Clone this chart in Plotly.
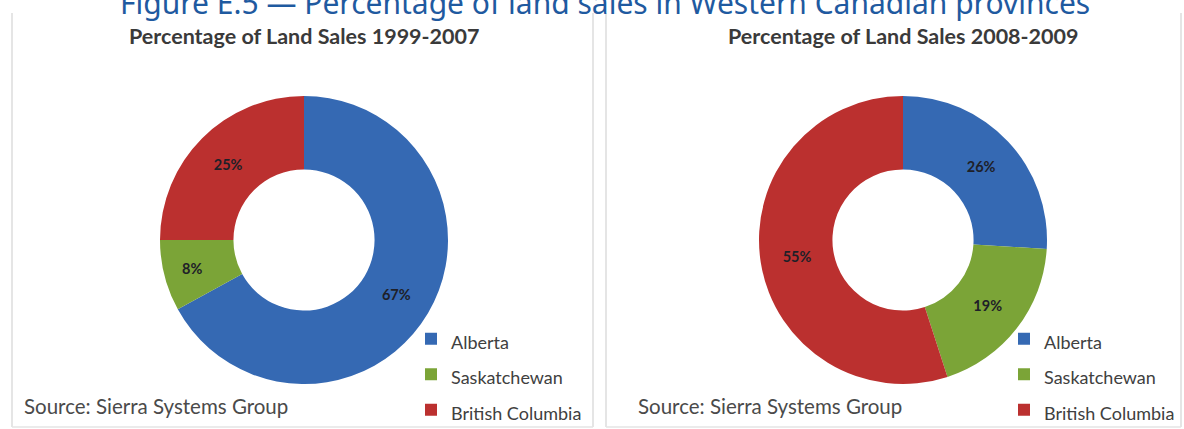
import plotly.graph_objects as go

# ---- data ----
provinces = ["Alberta", "Saskatchewan", "British Columbia"]
share_1999_2007 = [67, 8, 25]
share_2008_2009 = [26, 19, 55]
chart_titles = ["Percentage of Land Sales 1999-2007", "Percentage of Land Sales 2008-2009"]
main_title = "Figure E.5 \u2014 Percentage of land sales in Western Canadian provinces"
source_text = "Source: Sierra Systems Group"

# ---- style ----
W, H = 1184, 429
colors = ["#3569b3", "#7ba437", "#bb302f"]
R = 144
centers = [(304, 240), (903, 240)]
legend_left = [411, 1004]
panels = [(12, 593), (606, 1181)]
source_x = [22, 636]


def px(x):
    return x / W


def py(y):
    return 1 - y / H


fig = go.Figure()
for i, vals in enumerate([share_1999_2007, share_2008_2009]):
    cx, cy = centers[i]
    # legend entries rendered at a smaller size inside a taller legend row
    sep = ";" * (i + 1)
    legend_labels = [f"<span style='font-size:18px{sep}'>{p}</span>" for p in provinces]
    fig.add_trace(go.Pie(
        labels=legend_labels,
        values=vals,
        hole=0.49,
        sort=False,
        direction="clockwise",
        rotation=0,
        marker=dict(colors=colors, line=dict(width=0)),
        texttemplate="%{value}%",
        textposition="inside",
        insidetextorientation="horizontal",
        textfont=dict(family="Lato", size=14.5, color="#1e2028", weight="bold"),
        domain=dict(x=[px(cx - R), px(cx + R)], y=[py(cy + R), py(cy - R)]),
        legend="legend" if i == 0 else "legend2",
        showlegend=True,
        hoverinfo="label+percent",
    ))

shapes = []
for (x0, x1) in panels:
    for xx in (x0, x1):
        shapes.append(dict(type="line", xref="paper", yref="paper",
                           x0=px(xx), x1=px(xx), y0=py(13), y1=py(427),
                           line=dict(color="#dcdcdc", width=1.5)))
    shapes.append(dict(type="line", xref="paper", yref="paper",
                       x0=px(x0), x1=px(x1), y0=py(427), y1=py(427),
                       line=dict(color="#e4e4e4", width=1.5)))

annotations = [dict(text=main_title, x=px(605), y=py(2.5), xref="paper", yref="paper",
                    xanchor="center", yanchor="middle", showarrow=False,
                    font=dict(family="Noto Sans", size=30, color="#1f5aa0"))]
for i in range(2):
    annotations.append(dict(text=f"<b>{chart_titles[i]}</b>", x=px(centers[i][0]), y=py(36),
                            xref="paper", yref="paper", xanchor="center", yanchor="middle",
                            showarrow=False, font=dict(family="Lato", size=21.5, color="#3a3a3a")))
    annotations.append(dict(text=source_text, x=px(source_x[i]), y=py(406),
                            xref="paper", yref="paper", xanchor="left", yanchor="middle",
                            showarrow=False, font=dict(family="Lato", size=20.5, color="#4a4a4a")))

legend_common = dict(xanchor="left", yanchor="top", bgcolor="rgba(0,0,0,0)",
                     font=dict(family="Lato", size=25, color="#404040"),
                     itemclick=False, itemdoubleclick=False)
fig.update_layout(
    width=W, height=H,
    margin=dict(l=0, r=0, t=0, b=0, autoexpand=False),
    paper_bgcolor="white",
    plot_bgcolor="white",
    shapes=shapes,
    annotations=annotations,
    legend=dict(x=px(legend_left[0]), y=py(316), **legend_common),
    legend2=dict(x=px(legend_left[1]), y=py(316), **legend_common),
)

fig.write_html("out.html", config={"displayModeBar": False},
               post_script="document.body.style.margin='0px';")
